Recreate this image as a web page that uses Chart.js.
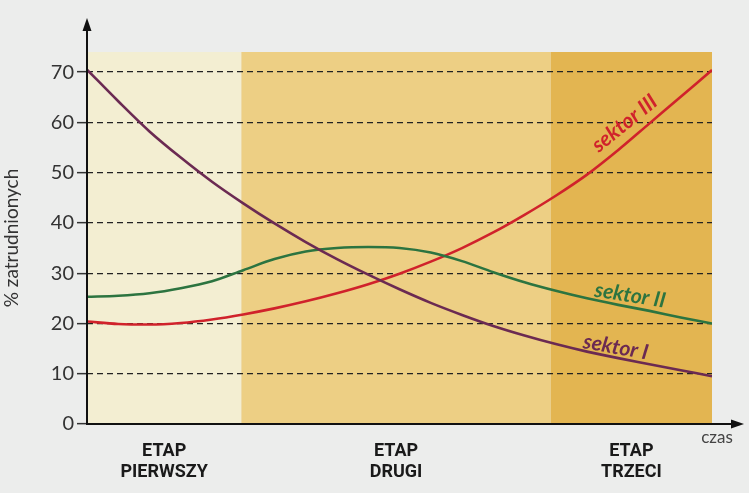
<!DOCTYPE html>
<html>
<head>
<meta charset="utf-8">
<script src="https://cdn.jsdelivr.net/npm/chart.js@4.4.1/dist/chart.umd.min.js"></script>
<style>
  body { margin: 0; background: #ecedec; }
  #wrap { width: 749px; height: 493px; position: relative; }
</style>
</head>
<body>
<div id="wrap"><canvas id="wykres"></canvas></div>
<script>
// Oś czasu w umownych jednostkach (0-100), punkty co 5
const czas = [0, 5, 10, 15, 20, 25, 30, 35, 40, 45, 50, 55, 60, 65, 70, 75, 80, 85, 90, 95, 100];

// % zatrudnionych w poszczególnych sektorach
const sektorI   = [70.5, 64.2, 58.2, 53, 48.2, 43.9, 39.9, 36.2, 32.8, 29.7, 26.8, 24.1, 21.7, 19.5, 17.6, 15.9, 14.4, 13.1, 11.9, 10.7, 9.5];
const sektorII  = [25.3, 25.5, 26, 27, 28.4, 30.6, 32.8, 34.3, 35, 35.2, 35, 34.1, 32.4, 30.2, 28.2, 26.5, 25, 23.7, 22.5, 21.2, 20];
const sektorIII = [20.4, 19.9, 19.8, 20.1, 20.8, 21.8, 23, 24.4, 26, 27.8, 29.9, 32.3, 35, 38.1, 41.6, 45.4, 49.6, 54.5, 59.8, 65.1, 70.4];

// Podziałka osi Y
const wartosciY = [0, 10, 20, 30, 40, 50, 60, 70];

// Etapy rozwoju i ich granice na osi czasu
const etapy = [["ETAP", "PIERWSZY"], ["ETAP", "DRUGI"], ["ETAP", "TRZECI"]];
const graniceEtapow = [0, 24.7, 74.2, 100];
const srodkiEtapow = etapy.map((e, i) => (graniceEtapow[i] + graniceEtapow[i + 1]) / 2);

const nazwySektorow = ["sektor I", "sektor II", "sektor III"];

const kolory = {
  sektorI: "#6b2a52",
  sektorII: "#2c7440",
  sektorIII: "#d0222b",
  etapy: ["#f3eed2", "#edcf84", "#e3b551"],
};

// Podpisy krzywych (pozycja w jednostkach danych, kąt w stopniach)
const podpisy = [
  { tekst: nazwySektorow[0], x: 84.6, y: 15.3, kat: 10, kolor: kolory.sektorI },
  { tekst: nazwySektorow[1], x: 86.9, y: 25.6, kat: 9, kolor: kolory.sektorII },
  { tekst: nazwySektorow[2], x: 86.0, y: 59.8, kat: -39, kolor: kolory.sektorIII },
];

function punkty(wartosci) {
  return czas.map((x, i) => ({ x: x, y: wartosci[i] }));
}

// Tło etapów
const tloEtapow = {
  id: "tloEtapow",
  beforeDraw(chart) {
    const { ctx, chartArea, scales } = chart;
    ctx.save();
    for (let i = 0; i < etapy.length; i++) {
      const x1 = scales.x.getPixelForValue(graniceEtapow[i]);
      const x2 = scales.x.getPixelForValue(graniceEtapow[i + 1]);
      ctx.fillStyle = kolory.etapy[i];
      ctx.fillRect(x1, chartArea.top, x2 - x1, chartArea.bottom - chartArea.top);
    }
    ctx.restore();
  },
};

// Osie ze strzałkami, podpisy krzywych i napis "czas"
const osieIPodpisy = {
  id: "osieIPodpisy",
  afterDraw(chart) {
    const { ctx, chartArea, scales } = chart;
    const x0 = chartArea.left;
    const y0 = chartArea.bottom;
    ctx.save();
    ctx.strokeStyle = "#111";
    ctx.fillStyle = "#111";
    ctx.lineWidth = 2;

    // oś Y
    ctx.beginPath();
    ctx.moveTo(x0, y0 + 1);
    ctx.lineTo(x0, 28);
    ctx.stroke();
    ctx.beginPath();
    ctx.moveTo(x0, 18);
    ctx.lineTo(x0 - 4.5, 31);
    ctx.lineTo(x0 + 4.5, 31);
    ctx.closePath();
    ctx.fill();

    // oś X
    ctx.beginPath();
    ctx.moveTo(x0 - 1, y0);
    ctx.lineTo(734, y0);
    ctx.stroke();
    ctx.beginPath();
    ctx.moveTo(744, y0);
    ctx.lineTo(731, y0 - 4.5);
    ctx.lineTo(731, y0 + 4.5);
    ctx.closePath();
    ctx.fill();

    // napis "czas"
    ctx.fillStyle = "#444";
    ctx.font = "17px Lato";
    ctx.textAlign = "center";
    ctx.textBaseline = "middle";
    ctx.fillText("czas", 717, 438);

    // podpisy sektorów
    podpisy.forEach((p) => {
      const px = scales.x.getPixelForValue(p.x);
      const py = scales.y.getPixelForValue(p.y);
      ctx.save();
      ctx.translate(px, py);
      ctx.rotate((p.kat * Math.PI) / 180);
      ctx.fillStyle = p.kolor;
      ctx.font = "italic bold 21px Lato";
      ctx.textAlign = "center";
      ctx.textBaseline = "middle";
      ctx.fillText(p.tekst, 0, 0);
      ctx.restore();
    });
    ctx.restore();
  },
};

const ctx = document.getElementById("wykres").getContext("2d");
new Chart(ctx, {
  type: "line",
  data: {
    datasets: [
      { label: nazwySektorow[0], data: punkty(sektorI), borderColor: kolory.sektorI },
      { label: nazwySektorow[1], data: punkty(sektorII), borderColor: kolory.sektorII },
      { label: nazwySektorow[2], data: punkty(sektorIII), borderColor: kolory.sektorIII },
    ],
  },
  options: {
    responsive: true,
    maintainAspectRatio: false,
    animation: false,
    layout: { padding: { top: 52, right: 37, left: 0, bottom: 0 } },
    elements: {
      line: { borderWidth: 2.6, cubicInterpolationMode: "monotone", fill: false },
      point: { radius: 0 },
    },
    plugins: {
      legend: { display: false },
      tooltip: { enabled: false },
    },
    scales: {
      x: {
        type: "linear",
        min: 0,
        max: 100,
        grid: { display: false, drawTicks: false },
        border: { display: false },
        afterBuildTicks: (scale) => {
          scale.ticks = srodkiEtapow.map((v) => ({ value: v }));
        },
        afterFit: (scale) => {
          scale.height = 69;
        },
        ticks: {
          autoSkip: false,
          maxRotation: 0,
          padding: 17,
          color: "#1a1a1a",
          font: { family: "Roboto", size: 18, weight: "bold", lineHeight: 1.15 },
          callback: (value) => {
            const i = srodkiEtapow.indexOf(value);
            return i >= 0 ? etapy[i] : "";
          },
        },
      },
      y: {
        min: 0,
        max: 74,
        afterBuildTicks: (scale) => {
          scale.ticks = wartosciY.map((v) => ({ value: v }));
        },
        afterFit: (scale) => {
          scale.width = 87;
        },
        border: { display: false, dash: [6, 4] },
        grid: {
          color: "#222",
          lineWidth: 1.3,
          tickBorderDash: [],
          tickLength: 10,
          tickColor: "#333",
          tickWidth: 1.5,
        },
        ticks: {
          padding: 3,
          color: "#333",
          font: { family: "Lato", size: 20 },
        },
        title: {
          display: true,
          text: "% zatrudnionych",
          color: "#333",
          font: { family: "Lato", size: 19 },
          padding: { top: 0, bottom: 2 },
        },
      },
    },
  },
  plugins: [tloEtapow, osieIPodpisy],
});
</script>
</body>
</html>
